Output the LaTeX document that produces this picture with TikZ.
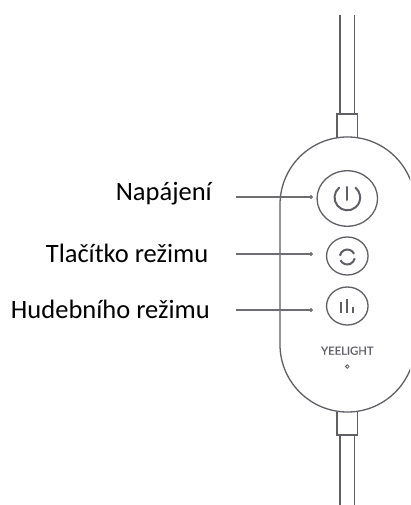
\documentclass[tikz,border=0pt]{standalone}
\usepackage{fontspec}
\setmainfont{Carlito}
\newfontfamily\logofont[FakeBold=0.6]{Lato}
\usetikzlibrary{arrows.meta}
\usetikzlibrary{shapes.geometric}
\definecolor{outline}{HTML}{5F5F65}
\definecolor{lead}{HTML}{6E6E72}
\tikzset{
    part/.style={outline, line width=1.3bp},
    icon/.style={outline, line width=2bp},
    button/.style={draw=outline, line width=1.3bp, ellipse, inner sep=0pt},
    caption/.style={anchor=base east, text=black, font=\fontsize{26.6}{30}\selectfont, inner sep=0pt},
    leadline/.style={lead, line width=1.1bp, -{Circle[length=4pt]}}
}

\begin{document}
\begin{tikzpicture}[x=1bp, y=-1bp]
    \clip (0, 0) rectangle (410, 505);
    \fill[white] (0, 0) rectangle (410, 505);
    % cable and collars
    \draw[part] (340, 15) -- (340, 114);
    \draw[part] (354.3, 15) -- (354.3, 114);
    \draw[part] (337, 138) -- (337, 114) -- (357.5, 114) -- (357.5, 138);
    \draw[part] (337, 412) -- (337, 435) -- (357.5, 435) -- (357.5, 412);
    \draw[part] (340, 435) -- (340, 505);
    \draw[part] (354.3, 435) -- (354.3, 505);
    % body
    \draw[part] (280, 204.5) arc [start angle=180, end angle=0, radius=67.5bp] -- (415, 344.5) arc [start angle=0, end angle=-180, radius=67.5bp] -- cycle;
    % buttons
    \node[button, minimum width=60.5bp, minimum height=55.5bp] (power) at (347.3, 198.5) {};
    \node[button, minimum width=41.5bp, minimum height=38bp] (mode) at (347.3, 256) {};
    \node[button, minimum width=41.5bp, minimum height=38bp] (music) at (347.3, 306) {};
    % icons
    \draw[icon, line cap=round] (339.1, 187.7) arc [start angle=130, end angle=410, radius=12.8bp];
    \draw[icon, line cap=round] (347.3, 187) -- (347.3, 200);
    \begin{scope}[shift={(347.3, 257)}]
        \draw[icon] (25:7.5bp) arc [start angle=25, end angle=170, radius=7.5bp];
        \draw[icon] (205:7.5bp) arc [start angle=205, end angle=350, radius=7.5bp];
    \end{scope}
    \draw[icon] (340.8, 301.7) -- (340.8, 313.3);
    \draw[icon] (347.3, 299) -- (347.3, 313.3);
    \draw[icon] (353.2, 306.7) -- (353.2, 313.3);
    % logo and lamp
    \node[outline, font=\logofont\fontsize{11.3}{13}\selectfont, inner sep=0pt] (logo) at (347.3, 350.7) {YEELIGHT};
    \node[draw=outline, circle, line width=0.8bp, minimum size=3.6bp, inner sep=0pt] (lamp) at (347.3, 366.5) {};
    % labels
    \node[caption] (powerlabel) at (212, 200.5) {Napájení};
    \node[caption] (modelabel) at (208.5, 262) {Tlačítko režimu};
    \node[caption] (musiclabel) at (210, 318) {Hudebního režimu};
    % leaders
    \coordinate (powerstart) at (236, 197);
    \coordinate (modestart) at (236, 254);
    \coordinate (musicstart) at (236, 310);
    \coordinate (powerend) at (313, 197);
    \coordinate (modeend) at (313, 254);
    \coordinate (musicend) at (313, 310);
    \draw[leadline] (powerstart) -- (powerend);
    \draw[leadline] (modestart) -- (modeend);
    \draw[leadline] (musicstart) -- (musicend);
\end{tikzpicture}
\end{document}
